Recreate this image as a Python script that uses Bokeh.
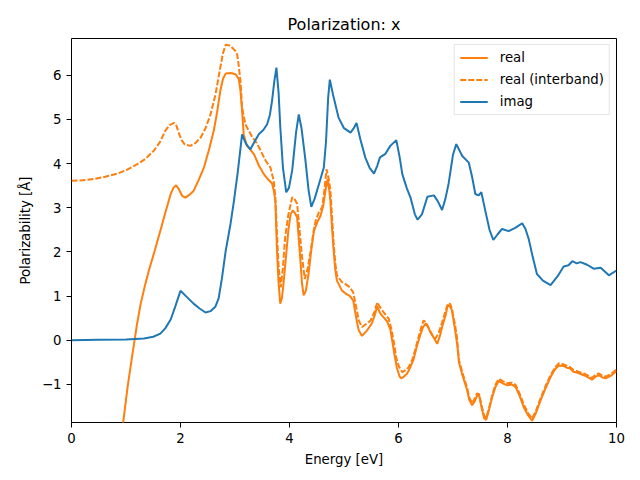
from bokeh.plotting import figure
from bokeh.models import Range1d, FixedTicker
from bokeh.embed import file_html
from bokeh.resources import INLINE

# ---- data ----
imag_x = [0.0, 0.5, 1.0, 1.33, 1.5, 1.63, 1.72, 1.82, 1.9, 2.0, 2.1, 2.24, 2.35, 2.46, 2.55, 2.64, 2.70, 2.76,
          2.83, 2.92, 2.98, 3.05, 3.13, 3.20, 3.28, 3.36, 3.44, 3.52, 3.59, 3.64, 3.68, 3.72, 3.76, 3.80, 3.83,
          3.88, 3.94, 3.99, 4.05, 4.12, 4.17, 4.22, 4.29, 4.35, 4.40, 4.46, 4.54, 4.63, 4.67, 4.71, 4.74, 4.80,
          4.90, 5.00, 5.12, 5.18, 5.23, 5.30, 5.39, 5.47, 5.55, 5.61, 5.66, 5.76, 5.85, 5.96, 6.02, 6.07, 6.15,
          6.22, 6.30, 6.35, 6.43, 6.53, 6.65, 6.72, 6.80, 6.86, 6.92, 7.00, 7.06, 7.17, 7.29, 7.35, 7.41, 7.47,
          7.52, 7.60, 7.67, 7.74, 7.82, 7.90, 8.02, 8.15, 8.27, 8.33, 8.39, 8.46, 8.54, 8.65, 8.79, 8.92, 9.03,
          9.12, 9.19, 9.27, 9.34, 9.46, 9.58, 9.71, 9.86, 10.0]
imag_y = [0.00, 0.01, 0.02, 0.04, 0.08, 0.15, 0.27, 0.47, 0.75, 1.12, 1.00, 0.83, 0.72, 0.63, 0.66, 0.76, 0.95, 1.40,
          2.03, 2.65, 3.15, 3.80, 4.66, 4.45, 4.32, 4.50, 4.67, 4.76, 4.89, 5.10, 5.42, 5.85, 6.17, 5.60, 4.85,
          3.90, 3.35, 3.45, 3.85, 4.70, 5.11, 4.80, 4.10, 3.40, 3.02, 3.20, 3.53, 3.91, 4.50, 5.50, 5.90, 5.55,
          5.04, 4.80, 4.70, 4.80, 4.92, 4.55, 4.14, 3.90, 3.77, 3.95, 4.14, 4.22, 4.40, 4.53, 4.15, 3.76, 3.45,
          3.23, 2.85, 2.73, 2.85, 3.25, 3.28, 3.15, 2.95, 3.20, 3.55, 4.20, 4.44, 4.17, 4.02, 3.70, 3.31, 3.28,
          3.35, 2.89, 2.50, 2.27, 2.40, 2.52, 2.47, 2.55, 2.65, 2.52, 2.29, 1.90, 1.50, 1.35, 1.25, 1.45, 1.67,
          1.70, 1.79, 1.74, 1.77, 1.71, 1.62, 1.64, 1.47, 1.58]

real_x = [0.80, 0.95, 1.03, 1.11, 1.20, 1.27, 1.35, 1.42, 1.52, 1.63, 1.72, 1.82, 1.87, 1.92, 1.97, 2.03, 2.09,
          2.16, 2.24, 2.33, 2.43, 2.52, 2.61, 2.67, 2.73, 2.78, 2.83, 2.92, 3.01, 3.07, 3.10, 3.13, 3.16, 3.22,
          3.28, 3.35, 3.44, 3.53, 3.60, 3.68, 3.71, 3.74, 3.77, 3.80, 3.83, 3.86, 3.89, 3.94, 3.98, 4.02, 4.06,
          4.10, 4.14, 4.17, 4.20, 4.23, 4.26, 4.30, 4.35, 4.40, 4.45, 4.52, 4.57, 4.62, 4.66, 4.70, 4.73, 4.75,
          4.78, 4.81, 4.84, 4.87, 4.96, 5.04, 5.11, 5.17, 5.20, 5.24, 5.27, 5.33, 5.42, 5.51, 5.56, 5.61, 5.66,
          5.70, 5.79, 5.85, 5.88, 5.93, 5.97, 6.02, 6.05, 6.10, 6.16, 6.22, 6.28, 6.34, 6.40, 6.45, 6.50, 6.55,
          6.59, 6.65, 6.71, 6.76, 6.80, 6.86, 6.90, 6.94, 6.98, 7.03, 7.08, 7.11, 7.17, 7.26, 7.30, 7.35, 7.40,
          7.44, 7.48, 7.52, 7.57, 7.61, 7.66, 7.72, 7.78, 7.84, 7.92, 8.00, 8.08, 8.15, 8.22, 8.30, 8.38, 8.45,
          8.52, 8.61, 8.70, 8.79, 8.87, 8.94, 9.02, 9.09, 9.15, 9.21, 9.30, 9.40, 9.48, 9.55, 9.61, 9.67, 9.74,
          9.80, 9.90, 10.0]
real_y = [-3.00, -1.84, -1.05, -0.38, 0.35, 0.83, 1.25, 1.58, 2.00, 2.48, 2.88, 3.31, 3.45, 3.51, 3.42, 3.27, 3.23,
          3.29, 3.38, 3.62, 3.91, 4.30, 4.74, 5.15, 5.64, 5.92, 6.04, 6.05, 6.02, 5.91, 5.65, 5.20, 4.65, 4.40,
          4.32, 4.21, 3.95, 3.76, 3.65, 3.55, 3.40, 3.16, 2.03, 1.30, 0.83, 0.95, 1.28, 1.95, 2.50, 2.85, 2.94,
          2.88, 2.78, 2.30, 1.81, 1.28, 1.02, 1.12, 1.51, 2.05, 2.48, 2.70, 2.82, 3.05, 3.39, 3.65, 3.40, 3.16,
          2.55, 2.03, 1.60, 1.35, 1.13, 1.05, 1.00, 0.90, 0.68, 0.40, 0.23, 0.10, 0.22, 0.38, 0.55, 0.77, 0.62,
          0.56, 0.43, 0.25, 0.02, -0.35, -0.62, -0.82, -0.86, -0.82, -0.75, -0.60, -0.42, -0.12, 0.12, 0.30, 0.38, 0.28,
          0.17, 0.05, -0.08, 0.10, 0.30, 0.55, 0.77, 0.78, 0.68, 0.30, -0.12, -0.50, -0.78, -1.13, -1.35, -1.47, -1.38,
          -1.25, -1.25, -1.50, -1.76, -1.80, -1.58, -1.28, -1.05, -0.92, -0.98, -1.02, -1.00, -1.06, -1.25, -1.52, -1.70, -1.82,
          -1.65, -1.35, -1.08, -0.83, -0.66, -0.57, -0.58, -0.62, -0.64, -0.71, -0.74, -0.79, -0.84, -0.89, -0.83, -0.79, -0.84,
          -0.86, -0.80, -0.70]

inter_x = [0.0, 0.2, 0.41, 0.62, 0.84, 1.02, 1.20, 1.36, 1.51, 1.62, 1.72, 1.80, 1.88, 1.92, 1.96, 2.02, 2.08,
           2.18, 2.28, 2.37, 2.46, 2.55, 2.64, 2.73, 2.78, 2.83, 2.90, 2.95, 3.00, 3.04, 3.07, 3.10, 3.13, 3.19,
           3.25, 3.32, 3.38, 3.44, 3.50, 3.56, 3.65, 3.71, 3.74, 3.77, 3.80, 3.84, 3.88, 3.92, 3.98, 4.05, 4.10,
           4.14, 4.18, 4.23, 4.28, 4.33, 4.39, 4.44, 4.48, 4.54, 4.60, 4.64, 4.68, 4.72, 4.75, 4.78, 4.81, 4.84,
           4.87, 4.96, 5.04, 5.11, 5.17, 5.20, 5.24, 5.27, 5.33, 5.42, 5.49, 5.56, 5.61, 5.66, 5.70, 5.76, 5.82,
           5.87, 5.92, 5.96, 6.01, 6.07, 6.10, 6.18, 6.25, 6.31, 6.37, 6.42, 6.46, 6.51, 6.56, 6.62, 6.68, 6.74,
           6.80, 6.86, 6.91, 6.95, 6.98, 7.03, 7.07, 7.11, 7.17, 7.26, 7.30, 7.35, 7.40, 7.44, 7.48, 7.52, 7.57,
           7.61, 7.66, 7.72, 7.78, 7.84, 7.92, 8.00, 8.08, 8.15, 8.22, 8.30, 8.38, 8.45, 8.52, 8.61, 8.70, 8.79,
           8.87, 8.94, 9.02, 9.09, 9.15, 9.21, 9.30, 9.40, 9.48, 9.55, 9.61, 9.67, 9.74, 9.80, 9.90, 10.0]
inter_y = [3.61, 3.62, 3.65, 3.70, 3.77, 3.86, 3.98, 4.11, 4.29, 4.48, 4.74, 4.87, 4.92, 4.88, 4.72, 4.53, 4.43,
           4.40, 4.47, 4.59, 4.80, 5.11, 5.55, 6.17, 6.50, 6.69, 6.67, 6.62, 6.56, 6.47, 6.20, 5.87, 5.27, 4.89,
           4.75, 4.59, 4.50, 4.37, 4.22, 4.07, 3.91, 3.61, 3.24, 2.40, 1.66, 1.20, 1.65, 2.33, 2.85, 3.24, 3.18,
           3.09, 2.55, 1.89, 1.39, 1.60, 2.03, 2.45, 2.71, 2.90, 3.01, 3.40, 3.87, 3.65, 3.39, 2.80, 2.18, 1.75,
           1.47, 1.32, 1.26, 1.20, 1.08, 0.90, 0.65, 0.45, 0.30, 0.38, 0.45, 0.65, 0.86, 0.75, 0.68, 0.58, 0.49,
           0.25, -0.08, -0.40, -0.60, -0.72, -0.70, -0.62, -0.45, -0.20, 0.08, 0.30, 0.45, 0.40, 0.26, 0.12, 0.04, 0.18,
           0.41, 0.65, 0.84, 0.82, 0.71, 0.40, 0.10, -0.45, -0.72, -1.08, -1.30, -1.42, -1.32, -1.20, -1.22, -1.45, -1.70,
           -1.76, -1.53, -1.24, -1.00, -0.87, -0.93, -0.97, -0.96, -1.01, -1.20, -1.46, -1.65, -1.77, -1.60, -1.30, -1.03, -0.79,
           -0.62, -0.52, -0.54, -0.58, -0.61, -0.67, -0.71, -0.75, -0.80, -0.85, -0.79, -0.75, -0.80, -0.82, -0.76, -0.66]

x_ticks = [0, 2, 4, 6, 8, 10]
y_ticks = [-1, 0, 1, 2, 3, 4, 5, 6]

ORANGE = "#ff7f0e"
BLUE = "#1f77b4"
FONT = "DejaVu Sans"

p = figure(output_backend="svg", toolbar_location=None,
           frame_width=545, frame_height=384,
           min_border_left=71, min_border_right=16, min_border_top=38, min_border_bottom=50,
           x_range=Range1d(0, 10), y_range=Range1d(-1.86, 6.83))

p.line(real_x, real_y, color=ORANGE, line_width=2, legend_label="real")
p.line(inter_x, inter_y, color=ORANGE, line_width=2, line_dash="6 2", legend_label="real (interband)")
p.line(imag_x, imag_y, color=BLUE, line_width=2, legend_label="imag")

p.title.text = "Polarization: x"
p.title.align = "center"
p.title.text_font = FONT
p.title.text_font_size = "16px"
p.title.text_font_style = "normal"
p.title.text_color = "black"

p.xaxis.ticker = FixedTicker(ticks=x_ticks)
p.yaxis.ticker = FixedTicker(ticks=y_ticks)
p.yaxis.major_label_overrides = {-1: "\u22121"}
p.xaxis.axis_label = "Energy [eV]"
p.yaxis.axis_label = "Polarizability [Å]"

for ax in (p.xaxis, p.yaxis):
    ax.axis_line_color = None
    ax.major_tick_in = 0
    ax.major_tick_out = 5
    ax.major_tick_line_color = "black"
    ax.minor_tick_line_color = None
    ax.major_label_standoff = 5
    ax.major_label_text_font = FONT
    ax.major_label_text_font_size = "13.3px"
    ax.major_label_text_color = "black"
    ax.axis_label_text_font = FONT
    ax.axis_label_text_font_size = "13.3px"
    ax.axis_label_text_font_style = "normal"
    ax.axis_label_text_color = "black"
    ax.axis_label_standoff = 6

p.xgrid.grid_line_color = None
p.ygrid.grid_line_color = None
p.outline_line_color = "black"
p.outline_line_alpha = 1.0
p.outline_line_width = 1

lg = p.legend[0]
lg.location = "top_right"
lg.margin = 6
lg.padding = 5
lg.spacing = 7
lg.glyph_width = 28
lg.glyph_height = 15
lg.label_height = 15
lg.label_standoff = 12
lg.border_line_color = "#cccccc"
lg.border_line_width = 1
lg.background_fill_alpha = 0.8
lg.label_text_font = FONT
lg.label_text_font_size = "13.3px"
lg.label_text_color = "black"

open("out.html", "w").write(file_html(p, INLINE))
